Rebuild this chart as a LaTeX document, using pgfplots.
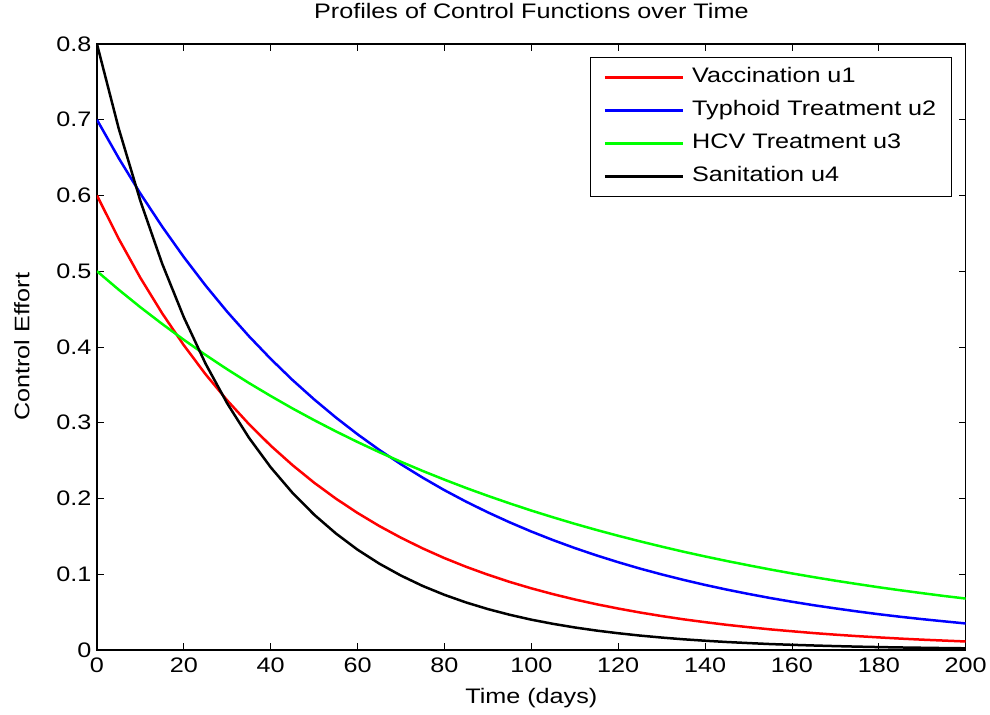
\documentclass[border=0pt]{standalone}
\usepackage{fontspec}
\setmainfont{Liberation Sans}[FakeStretch=1.2]
\usepackage{pgfplots}
\pgfplotsset{compat=1.18}
\definecolor{mred}{RGB}{255,0,0}
\definecolor{mblue}{RGB}{0,0,255}
\definecolor{mgreen}{RGB}{0,255,0}
\newcommand{\fs}{\fontsize{21}{25}\selectfont}
\begin{document}
\begin{tikzpicture}
\begin{axis}[
  scale only axis,
  width=869pt, height=606pt,
  xmin=0, xmax=200, ymin=0, ymax=0.8,
  xtick={0,20,...,200},
  ytick={0,0.1,0.2,0.3,0.4,0.5,0.6,0.7,0.8},
  yticklabel style={/pgf/number format/fixed, /pgf/number format/precision=1, xshift=-2pt},
  xticklabel style={yshift=-4pt},
  /pgf/number format/assume math mode=true,
  tick pos=both,
  tick align=inside,
  major tick length=7pt,
  tick style={line width=0.8pt, black},
  axis line style={line width=1.4pt},
  every axis/.append style={font=\fs},
  tick label style={font=\fs},
  title={Profiles of Control Functions over Time},
  title style={font=\fs, at={(axis description cs:0.5,1)}, anchor=center, yshift=27pt},
  xlabel={Time (days)},
  xlabel style={font=\fs, at={(axis description cs:0.5,0)}, anchor=center, yshift=-48pt},
  ylabel={Control Effort},
  ylabel style={font=\fs, at={(axis description cs:-0.0863,0.5)}, anchor=center},
  legend style={at={(axis description cs:0.9839,0.9785)}, anchor=north east,
    draw=black, line width=0.8pt, font=\fs, row sep=9pt, column sep=6pt,
    inner xsep=13pt, inner ysep=8pt,
    nodes={inner sep=2pt, text height=15pt, text depth=5pt}},
  legend cell align=left,
  legend image code/.code={\draw[#1, line width=2.5pt] (0pt,0pt) -- (78pt,0pt);},
  every axis plot/.append style={line width=2.5pt},
]
\addplot[mred] coordinates {
(0,0.6000) (5,0.5429) (10,0.4912) (15,0.4445) (20,0.4022) (25,0.3639) (30,0.3293) (35,0.2980) (40,0.2696) (45,0.2440) (50,0.2207)
(55,0.1997) (60,0.1807) (65,0.1635) (70,0.1480) (75,0.1339) (80,0.1211) (85,0.1096) (90,0.0992) (95,0.0897) (100,0.0812)
(105,0.0735) (110,0.0665) (115,0.0602) (120,0.0545) (125,0.0493) (130,0.0446) (135,0.0403) (140,0.0365) (145,0.0330) (150,0.0299)
(155,0.0270) (160,0.0245) (165,0.0221) (170,0.0200) (175,0.0181) (180,0.0164) (185,0.0148) (190,0.0134) (195,0.0122) (200,0.0110)
};
\addlegendentry{Vaccination u1}
\addplot[mblue] coordinates {
(0,0.7000) (5,0.6494) (10,0.6025) (15,0.5590) (20,0.5186) (25,0.4811) (30,0.4463) (35,0.4141) (40,0.3842) (45,0.3564) (50,0.3307)
(55,0.3068) (60,0.2846) (65,0.2640) (70,0.2450) (75,0.2273) (80,0.2108) (85,0.1956) (90,0.1815) (95,0.1684) (100,0.1562)
(105,0.1449) (110,0.1344) (115,0.1247) (120,0.1157) (125,0.1073) (130,0.0996) (135,0.0924) (140,0.0857) (145,0.0795) (150,0.0738)
(155,0.0684) (160,0.0635) (165,0.0589) (170,0.0547) (175,0.0507) (180,0.0470) (185,0.0436) (190,0.0405) (195,0.0376) (200,0.0348)
};
\addlegendentry{Typhoid Treatment u2}
\addplot[mgreen] coordinates {
(0,0.5000) (5,0.4756) (10,0.4524) (15,0.4304) (20,0.4094) (25,0.3894) (30,0.3704) (35,0.3523) (40,0.3352) (45,0.3188) (50,0.3033)
(55,0.2885) (60,0.2744) (65,0.2610) (70,0.2483) (75,0.2362) (80,0.2247) (85,0.2137) (90,0.2033) (95,0.1934) (100,0.1839)
(105,0.1750) (110,0.1664) (115,0.1583) (120,0.1506) (125,0.1433) (130,0.1363) (135,0.1296) (140,0.1233) (145,0.1173) (150,0.1116)
(155,0.1061) (160,0.1009) (165,0.0960) (170,0.0913) (175,0.0869) (180,0.0826) (185,0.0786) (190,0.0748) (195,0.0711) (200,0.0677)
};
\addlegendentry{HCV Treatment u3}
\addplot[black] coordinates {
(0,0.8000) (5,0.6886) (10,0.5927) (15,0.5101) (20,0.4391) (25,0.3779) (30,0.3253) (35,0.2800) (40,0.2410) (45,0.2074) (50,0.1785)
(55,0.1537) (60,0.1322) (65,0.1138) (70,0.0980) (75,0.0843) (80,0.0726) (85,0.0625) (90,0.0538) (95,0.0463) (100,0.0398)
(105,0.0343) (110,0.0295) (115,0.0254) (120,0.0219) (125,0.0188) (130,0.0162) (135,0.0139) (140,0.0120) (145,0.0103) (150,0.0089)
(155,0.0076) (160,0.0066) (165,0.0057) (170,0.0049) (175,0.0042) (180,0.0036) (185,0.0031) (190,0.0027) (195,0.0023) (200,0.0020)
};
\addlegendentry{Sanitation u4}
\end{axis}
\path (current axis.south west) ++(-97pt,-65pt) coordinate (bbA);
\path (current axis.north east) ++(24pt,44pt) coordinate (bbB);
\path (bbA) rectangle (bbB);
\end{tikzpicture}
\end{document}
